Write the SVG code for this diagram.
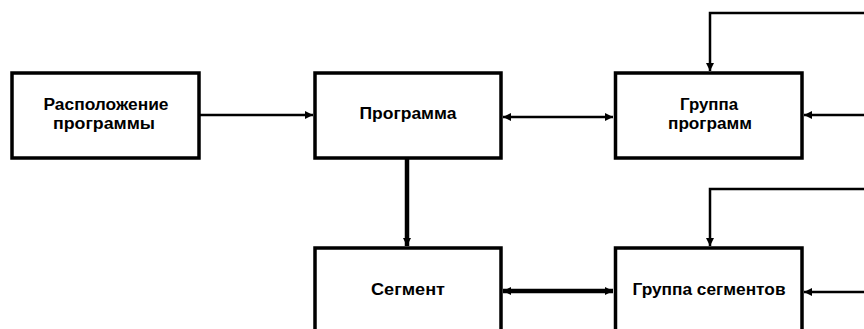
<svg xmlns="http://www.w3.org/2000/svg" width="864" height="329" viewBox="0 0 864 329">
<style>
.box{fill:#fff;stroke:#000;stroke-width:3.5}
.t{font-family:"Liberation Sans",Arial,sans-serif;font-weight:bold;font-size:16px;text-anchor:middle;fill:#000}
.c{fill:none;stroke:#000;stroke-width:2.5}
.ck{fill:none;stroke:#000;stroke-width:4.5}
</style>
<defs>
<marker id="ah" viewBox="0 0 8 8" refX="8" refY="4" markerWidth="8" markerHeight="8" markerUnits="userSpaceOnUse" orient="auto-start-reverse">
<path d="M0,0 L8,4 L0,8 z" fill="#000"/>
</marker>
</defs>
<rect width="864" height="329" fill="#fff"/>
<g id="connectors">
<path class="c" d="M199 115 H313" marker-end="url(#ah)"/>
<path class="c" d="M503 117 H613" marker-start="url(#ah)" marker-end="url(#ah)"/>
<path class="ck" d="M407 158 V246" marker-end="url(#ah)"/>
<path class="ck" d="M503 291 H613" marker-start="url(#ah)" marker-end="url(#ah)"/>
<path class="c" d="M864 13 H710 V71" marker-end="url(#ah)"/>
<path class="c" d="M864 115 H804" marker-end="url(#ah)"/>
<path class="c" d="M864 189 H710 V246" marker-end="url(#ah)"/>
<path class="c" d="M864 292 H804" marker-end="url(#ah)"/>
</g>
<g id="node-location">
<rect class="box" x="12" y="73" width="187" height="85"/>
<text class="t" x="106" y="110" textLength="125" lengthAdjust="spacingAndGlyphs">Расположение</text>
<text class="t" x="104" y="129" textLength="102" lengthAdjust="spacingAndGlyphs">программы</text>
</g>
<g id="node-program">
<rect class="box" x="315" y="73" width="186" height="85"/>
<text class="t" x="408" y="119" textLength="97" lengthAdjust="spacingAndGlyphs">Программа</text>
</g>
<g id="node-program-group">
<rect class="box" x="615.5" y="73" width="186.5" height="85"/>
<text class="t" x="709" y="110" textLength="58" lengthAdjust="spacingAndGlyphs">Группа</text>
<text class="t" x="710" y="129" textLength="84" lengthAdjust="spacingAndGlyphs">программ</text>
</g>
<g id="node-segment">
<rect class="box" x="315" y="248" width="186" height="100"/>
<text class="t" x="408" y="295" textLength="74" lengthAdjust="spacingAndGlyphs">Сегмент</text>
</g>
<g id="node-segment-group">
<rect class="box" x="615.5" y="248" width="186.5" height="100"/>
<text class="t" x="709" y="295" textLength="153" lengthAdjust="spacingAndGlyphs">Группа сегментов</text>
</g>
</svg>
